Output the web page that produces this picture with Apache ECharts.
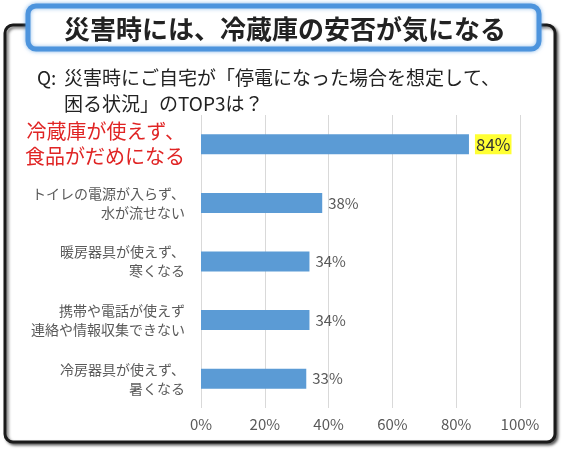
<!DOCTYPE html>
<html>
<head>
<meta charset="utf-8">
<script src="https://cdn.jsdelivr.net/npm/echarts@6/dist/echarts.min.js"></script>
<style>
html,body{margin:0;padding:0;background:#fff;}
#c{width:564px;height:450px;}
</style>
</head>
<body>
<div id="c"></div>
<script>
const headline = '災害時には、冷蔵庫の安否が気になる';
const questionLines = ['災害時にご自宅が「停電になった場合を想定して、', '困る状況」のTOP3は？'];
const categories = [
  '冷蔵庫が使えず、\n食品がだめになる',
  'トイレの電源が入らず、\n水が流せない',
  '暖房器具が使えず、\n寒くなる',
  '携帯や電話が使えず\n連絡や情報収集できない',
  '冷房器具が使えず、\n暑くなる'
];
const values = [84, 38, 34, 34, 33];
const xTicks = [0, 20, 40, 60, 80, 100];

const FF = '"Noto Sans CJK JP", "Noto Sans", sans-serif';
const chart = echarts.init(document.getElementById('c'));

chart.setOption({
  animation: false,
  backgroundColor: '#fff',
  graphic: [
    { type: 'rect', z: 0, shape: { x: 5, y: 25, width: 550, height: 417, r: 8 },
      style: { fill: '#fff', stroke: '#1a1a1a', lineWidth: 3, shadowColor: 'rgba(0,0,0,0.55)', shadowBlur: 3, shadowOffsetX: 2, shadowOffsetY: 2 } },
    { type: 'rect', z: 1, shape: { x: 28, y: 6, width: 511, height: 43, r: 8 },
      style: { fill: '#fff', stroke: '#4d94dd', lineWidth: 5, shadowColor: 'rgba(77,148,221,0.6)', shadowBlur: 4 } },
    { type: 'text', z: 2, x: 285, y: 29,
      style: { text: headline, font: 'bold 26px ' + FF, fill: '#222', align: 'center', verticalAlign: 'middle' } },
    { type: 'text', z: 2, x: 37, y: 78,
      style: { text: 'Q:', font: '19px ' + FF, fill: '#222', verticalAlign: 'middle' } },
    { type: 'text', z: 2, x: 64, y: 78,
      style: { text: questionLines[0], font: '19px ' + FF, fill: '#222', verticalAlign: 'middle' } },
    { type: 'text', z: 2, x: 64, y: 104,
      style: { text: questionLines[1], font: '19px ' + FF, fill: '#222', verticalAlign: 'middle' } }
  ],
  grid: { left: 201, right: 44, top: 115, bottom: 42, containLabel: false },
  xAxis: {
    type: 'value', min: 0, max: 100, interval: 20,
    axisLine: { show: false }, axisTick: { show: false },
    splitLine: { show: true, lineStyle: { color: '#d9d9d9', width: 1 } },
    axisLabel: { formatter: v => xTicks.includes(v) ? v + '%' : '', color: '#595959', fontSize: 15, fontFamily: FF, margin: 9 }
  },
  yAxis: {
    type: 'category', inverse: true, data: categories,
    axisLine: { show: false }, axisTick: { show: false },
    axisLabel: {
      margin: 16, align: 'right', fontFamily: FF,
      formatter: (v, i) => i === 0 ? '{hi|' + v.split('\n').join('}\n{hi|') + '}' : '{n|' + v.split('\n').join('}\n{n|') + '}',
      rich: {
        hi: { color: '#e02424', fontSize: 20, lineHeight: 25, fontFamily: FF, align: 'right' },
        n: { color: '#595959', fontSize: 14, lineHeight: 19, fontFamily: FF, align: 'right' }
      }
    }
  },
  series: [{
    type: 'bar', data: values, barWidth: 20,
    itemStyle: { color: '#5b9bd5' },
    label: {
      show: true, position: 'right', distance: 6, fontFamily: FF,
      formatter: p => p.dataIndex === 0 ? '{hl|' + p.value + '%}' : '{n|' + p.value + '%}',
      rich: {
        hl: { backgroundColor: '#ffff33', color: '#333', fontSize: 17, padding: [2, 1, 1, 1], fontFamily: FF },
        n: { color: '#595959', fontSize: 15, fontFamily: FF }
      }
    }
  }]
});
</script>
</body>
</html>
